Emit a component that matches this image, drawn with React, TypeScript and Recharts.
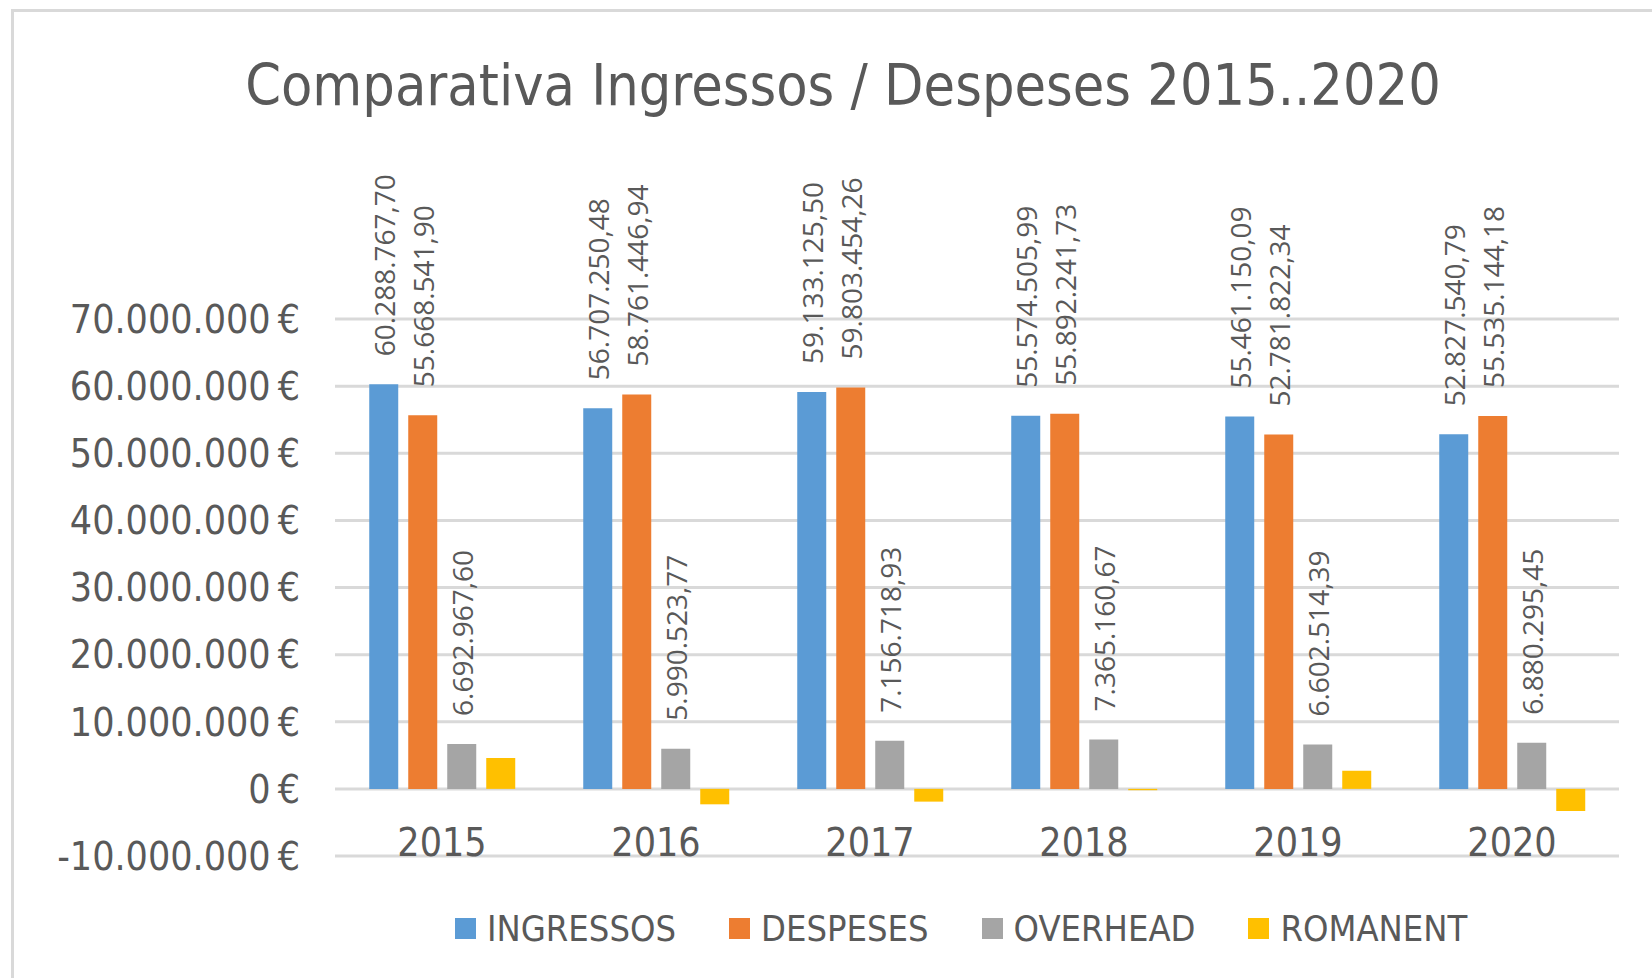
import { BarChart, Bar, XAxis, YAxis, CartesianGrid, Legend, LabelList } from 'recharts'

const years = ['2015', '2016', '2017', '2018', '2019', '2020']
const ingressos = [60288767.7, 56707250.48, 59133125.5, 55574505.99, 55461150.09, 52827540.79]
const despeses = [55668541.9, 58761446.94, 59803454.26, 55892241.73, 52781822.34, 55535144.18]
const overhead = [6692967.6, 5990523.77, 7156718.93, 7365160.67, 6602514.39, 6880295.45]
const romanent = [4600000, -2300000, -1900000, -200000, 2700000, -3300000]
const yTicks = [-10000000, 0, 10000000, 20000000, 30000000, 40000000, 50000000, 60000000, 70000000]

const series = [
  { key: 'ingressos', name: 'INGRESSOS', color: '#5B9BD5', labels: true },
  { key: 'despeses', name: 'DESPESES', color: '#ED7D31', labels: true },
  { key: 'overhead', name: 'OVERHEAD', color: '#A5A5A5', labels: true },
  { key: 'romanent', name: 'ROMANENT', color: '#FFC000', labels: false },
]

const data = years.map((year, i) => ({
  year,
  ingressos: ingressos[i],
  despeses: despeses[i],
  overhead: overhead[i],
  romanent: romanent[i],
}))

const NARROW = '"Liberation Sans Narrow", "DejaVu Sans Condensed", sans-serif'
const TEXT = '#595959'

function groupThousands(s: string) {
  return s.replace(/\B(?=(\d{3})+(?!\d))/g, '.')
}

function fmtEuro(v: number) {
  const sign = v < 0 ? '-' : ''
  return sign + groupThousands(String(Math.abs(Math.round(v)))) + '\u2009€'
}

function fmtValue(v: number) {
  const [int, dec] = Math.abs(v).toFixed(2).split('.')
  return (v < 0 ? '-' : '') + groupThousands(int) + ',' + dec
}

const VerticalLabel = (props: any) => {
  const { x, y, width, value } = props
  const cx = x + width / 2
  const cy = y - 28
  return (
    <text
      x={cx}
      y={cy}
      transform={`rotate(-90, ${cx}, ${cy})`}
      textAnchor="start"
      dominantBaseline="central"
      fill={TEXT}
      fontSize={28}
      fontFamily='"Open Sans", sans-serif'
    >
      {fmtValue(value)}
    </text>
  )
}

const YearTick = (props: any) => {
  const { x, y, payload } = props
  return (
    <text x={x} y={y} textAnchor="middle" fill={TEXT} fontSize={39} fontFamily={NARROW}>
      {payload.value}
    </text>
  )
}

const LegendContent = () => (
  <div
    style={{
      height: 60,
      display: 'flex',
      justifyContent: 'flex-start',
      alignItems: 'center',
      paddingLeft: 455,
      gap: 53,
      fontFamily: NARROW,
      fontSize: 36,
      color: TEXT,
    }}
  >
    {series.map((s) => (
      <div key={s.key} style={{ display: 'flex', alignItems: 'center' }}>
        <span style={{ width: 21, height: 21, background: s.color, marginRight: 11, display: 'inline-block' }} />
        <span>{s.name}</span>
      </div>
    ))}
  </div>
)

export default function App() {
  return (
    <div style={{ position: 'fixed', left: 0, top: 0, width: 1652, height: 978, overflow: 'hidden', background: '#fff' }}>
      <div
        style={{
          position: 'absolute',
          left: 11,
          top: 9,
          width: 1700,
          height: 1000,
          border: '3px solid #d9d9d9',
          boxSizing: 'border-box',
        }}
      />
      <div
        style={{
          position: 'absolute',
          left: 0,
          top: 50,
          width: 1686,
          textAlign: 'center',
          fontFamily: NARROW,
          fontSize: 57,
          lineHeight: '70px',
          color: TEXT,
          whiteSpace: 'nowrap',
        }}
      >
        Comparativa Ingressos / Despeses 2015..2020
      </div>
      <div style={{ position: 'absolute', left: 0, top: 0 }}>
        <BarChart
          width={1652}
          height={978}
          data={data}
          margin={{ top: 319, right: 33, bottom: 20, left: 0 }}
          barCategoryGap="16%"
          barGap={10}
        >
          <CartesianGrid vertical={false} stroke="#D9D9D9" strokeWidth={3} />
          <XAxis
            dataKey="year"
            height={42}
            axisLine={false}
            tickLine={false}
            tickSize={0}
            tickMargin={0}
            tick={<YearTick />}
          />
          <YAxis
            width={335}
            domain={[-10000000, 70000000]}
            ticks={yTicks}
            axisLine={false}
            tickLine={false}
            tickMargin={0}
            tickSize={0}
            tickFormatter={fmtEuro}
            tick={{ fill: TEXT, fontSize: 39, fontFamily: NARROW, dx: -35 }}
          />
          <Legend verticalAlign="bottom" height={60} content={<LegendContent />} />
          {series.map((s) => (
            <Bar key={s.key} dataKey={s.key} name={s.name} fill={s.color} isAnimationActive={false}>
              {s.labels && <LabelList dataKey={s.key} content={<VerticalLabel />} />}
            </Bar>
          ))}
        </BarChart>
      </div>
    </div>
  )
}
